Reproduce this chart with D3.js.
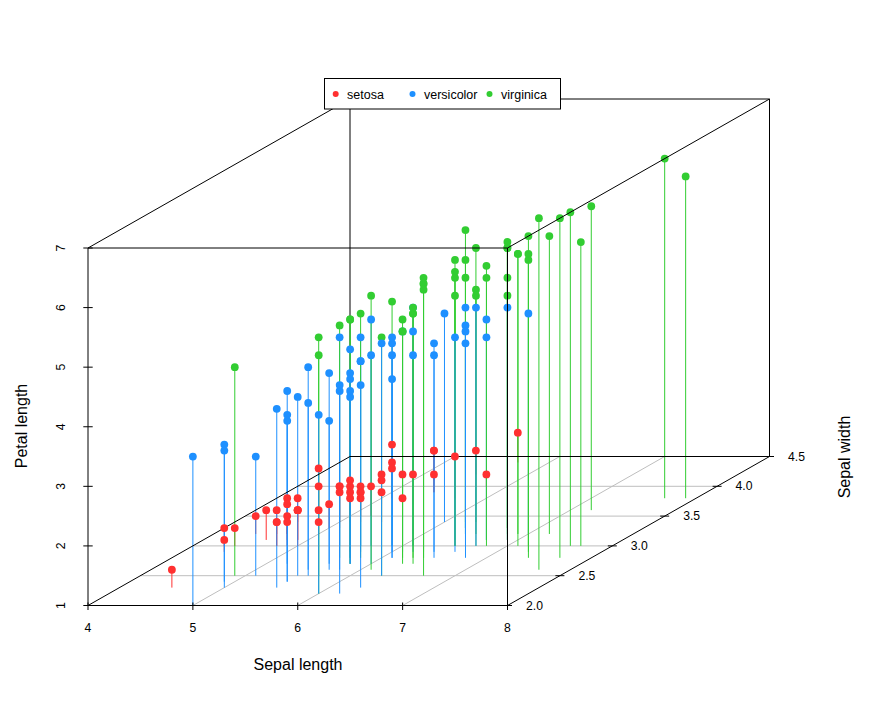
<!DOCTYPE html>
<html><head><meta charset="utf-8">
<script src="https://cdn.jsdelivr.net/npm/d3@7"></script>
<style>html,body{margin:0;padding:0;background:#fff}svg{display:block}text{font-family:"Liberation Sans",Arial,sans-serif;fill:#000}</style>
</head><body><svg id="c" width="885" height="724"></svg>
<script>
const species = ["setosa","versicolor","virginica"];
const speciesColors = ["#FF3030","#1E90FF","#32CD32"];
const xTicks = [4,5,6,7,8];
const yTicks = [2,2.5,3,3.5,4,4.5];
const zTicks = [1,2,3,4,5,6,7];
const sepalLength = [5.1,4.9,4.7,4.6,5,5.4,4.6,5,4.4,4.9,5.4,4.8,4.8,4.3,5.8,5.7,5.4,5.1,5.7,5.1,5.4,5.1,4.6,5.1,4.8,5,5,5.2,5.2,4.7,4.8,5.4,5.2,5.5,4.9,5,5.5,4.9,4.4,5.1,5,4.5,4.4,5,5.1,4.8,5.1,4.6,5.3,5,
7,6.4,6.9,5.5,6.5,5.7,6.3,4.9,6.6,5.2,5,5.9,6,6.1,5.6,6.7,5.6,5.8,6.2,5.6,5.9,6.1,6.3,6.1,6.4,6.6,6.8,6.7,6,5.7,5.5,5.5,5.8,6,5.4,6,6.7,6.3,5.6,5.5,5.5,6.1,5.8,5,5.6,5.7,5.7,6.2,5.1,5.7,
6.3,5.8,7.1,6.3,6.5,7.6,4.9,7.3,6.7,7.2,6.5,6.4,6.8,5.7,5.8,6.4,6.5,7.7,7.7,6,6.9,5.6,7.7,6.3,6.7,7.2,6.2,6.1,6.4,7.2,7.4,7.9,6.4,6.3,6.1,7.7,6.3,6.4,6,6.9,6.7,6.9,5.8,6.8,6.7,6.7,6.3,6.5,6.2,5.9];
const sepalWidth = [3.5,3,3.2,3.1,3.6,3.9,3.4,3.4,2.9,3.1,3.7,3.4,3,3,4,4.4,3.9,3.5,3.8,3.8,3.4,3.7,3.6,3.3,3.4,3,3.4,3.5,3.4,3.2,3.1,3.4,4.1,4.2,3.1,3.2,3.5,3.6,3,3.4,3.5,2.3,3.2,3.5,3.8,3,3.8,3.2,3.7,3.3,
3.2,3.2,3.1,2.3,2.8,2.8,3.3,2.4,2.9,2.7,2,3,2.2,2.9,2.9,3.1,3,2.7,2.2,2.5,3.2,2.8,2.5,2.8,2.9,3,2.8,3,2.9,2.6,2.4,2.4,2.7,2.7,3,3.4,3.1,2.3,3,2.5,2.6,3,2.6,2.3,2.7,3,2.9,2.9,2.5,2.8,
3.3,2.7,3,2.9,3,3,2.5,2.9,2.5,3.6,3.2,2.7,3,2.5,2.8,3.2,3,3.8,2.6,2.2,3.2,2.8,2.8,2.7,3.3,3.2,2.8,3,2.8,3,2.8,3.8,2.8,2.8,2.6,3,3.4,3.1,3,3.1,3.1,3.1,2.7,3.2,3.3,3,2.5,3,3.4,3];
const petalLength = [1.4,1.4,1.3,1.5,1.4,1.7,1.4,1.5,1.4,1.5,1.5,1.6,1.4,1.1,1.2,1.5,1.3,1.4,1.7,1.5,1.7,1.5,1,1.7,1.9,1.6,1.6,1.5,1.4,1.6,1.6,1.5,1.5,1.4,1.5,1.2,1.3,1.4,1.3,1.5,1.3,1.3,1.3,1.6,1.9,1.4,1.6,1.4,1.5,1.4,
4.7,4.5,4.9,4,4.6,4.5,4.7,3.3,4.6,3.9,3.5,4.2,4,4.7,3.6,4.4,4.5,4.1,4.5,3.9,4.8,4,4.9,4.7,4.3,4.4,4.8,5,4.5,3.5,3.8,3.7,3.9,5.1,4.5,4.5,4.7,4.4,4.1,4,4.4,4.6,4,3.3,4.2,4.2,4.2,4.3,3,4.1,
6,5.1,5.9,5.6,5.8,6.6,4.5,6.3,5.8,6.1,5.1,5.3,5.5,5,5.1,5.3,5.5,6.7,6.9,5,5.7,4.9,6.7,4.9,5.7,6,4.8,4.9,5.6,5.8,6.1,6.4,5.6,5.1,5.6,6.1,5.6,5.5,4.8,5.4,5.6,5.1,5.1,5.9,5.7,5.2,5,5.2,5.4,5.1];
const speciesIndex = sepalLength.map((_, i) => Math.floor(i / 50));

const svg = d3.select("#c");
const x = d3.scaleLinear().domain([4,8]).range([88,507.5]);
const depthX = d3.scaleLinear().domain([2,4.5]).range([0,262]);
const depthY = d3.scaleLinear().domain([2,4.5]).range([0,-149]);
const z = d3.scaleLinear().domain([1,7]).range([605.5,248]);
const px = (a,b) => x(a) + depthX(b);
const py = (b,c) => z(c) + depthY(b);
const color = d3.scaleOrdinal().domain(d3.range(3)).range(speciesColors);
const seg = (g,data,a,cls,stroke,w) => g.selectAll("line."+cls).data(data).join("line").attr("class",cls)
  .attr("x1",d=>a(d)[0]).attr("y1",d=>a(d)[1]).attr("x2",d=>a(d)[2]).attr("y2",d=>a(d)[3])
  .attr("stroke",stroke).attr("stroke-width",w||1);
const edge = e=>[px(e[0][0],e[0][1]),py(e[0][1],e[0][2]),px(e[1][0],e[1][1]),py(e[1][1],e[1][2])];

// floor grid
const grid = svg.append("g");
seg(grid,xTicks.slice(1,-1),v=>[px(v,2),py(2,1),px(v,4.5),py(4.5,1)],"gx","#BEBEBE");
seg(grid,yTicks.slice(1,-1),v=>[px(4,v),py(v,1),px(8,v),py(v,1)],"gy","#BEBEBE");

// back vertical edge lies behind everything
seg(svg.append("g"),[[[4,4.5,1],[4,4.5,7]]],edge,"backV","#000");

// drop lines, back to front
const order = d3.range(sepalLength.length).sort((i,j)=>sepalWidth[j]-sepalWidth[i] || j-i);
const drops = svg.append("g");
seg(drops,order,i=>[px(sepalLength[i],sepalWidth[i]),py(sepalWidth[i],1),px(sepalLength[i],sepalWidth[i]),py(sepalWidth[i],petalLength[i])],"drop",i=>color(speciesIndex[i]));

// floor edges run over the drop lines but under the points
const floorEdges = [[[4,2,1],[4,4.5,1]],[[4,4.5,1],[8,4.5,1]]];
seg(svg.append("g"),floorEdges,edge,"floorEdge","#000");

// points
svg.append("g").selectAll("circle").data(order).join("circle")
  .attr("cx",i=>px(sepalLength[i],sepalWidth[i]))
  .attr("cy",i=>py(sepalWidth[i],petalLength[i]))
  .attr("r",3.9).attr("fill",i=>color(speciesIndex[i]));

// box edges in front of the marks
const box = svg.append("g");
const frontEdges = [
 [[4,2,1],[8,2,1]],[[8,2,1],[8,4.5,1]],
 [[4,2,1],[4,2,7]],[[8,2,1],[8,2,7]],[[8,4.5,1],[8,4.5,7]],
 [[4,2,7],[8,2,7]],[[4,2,7],[4,4.5,7]],[[8,2,7],[8,4.5,7]],[[4,4.5,7],[8,4.5,7]]];
seg(box,frontEdges,edge,"edge","#000");

// ticks
seg(box,xTicks,v=>[px(v,2),py(2,1)-3,px(v,2),py(2,1)+4.5],"tx","#000");
seg(box,zTicks,v=>[px(4,2)-4.7,z(v),px(4,2)+4.7,z(v)],"tz","#000");
seg(box,yTicks,v=>[px(8,v)-4.5,py(v,1),px(8,v)+4.5,py(v,1)],"ty","#000");

// tick labels
const labels = svg.append("g").attr("font-size",12.2);
labels.selectAll("text.lx").data(xTicks).join("text").attr("class","lx")
  .attr("x",v=>px(v,2)).attr("y",632).attr("text-anchor","middle").text(v=>v);
labels.selectAll("text.lz").data(zTicks).join("text").attr("class","lz")
  .attr("transform",v=>`translate(65,${z(v)}) rotate(-90)`).attr("text-anchor","middle").text(v=>v);
labels.selectAll("text.ly").data(yTicks).join("text").attr("class","ly")
  .attr("x",v=>px(8,v)+18.5).attr("y",v=>py(v,1)+4).text(d3.format(".1f"));

// axis titles
const titles = svg.append("g").attr("font-size",16);
titles.append("text").attr("x",298).attr("y",670).attr("text-anchor","middle").text("Sepal length");
titles.append("text").attr("transform","translate(27,426) rotate(-90)").attr("text-anchor","middle").text("Petal length");
titles.append("text").attr("transform","translate(850,457) rotate(-90)").attr("text-anchor","middle").text("Sepal width");

// legend
const legend = svg.append("g");
legend.append("rect").attr("x",324.5).attr("y",78.5).attr("width",236).attr("height",30.5).attr("fill","#fff").attr("stroke","#000");
const legendDot = [335.7,412.5,489.5];
const legendText = [347,424,501];
legend.selectAll("circle").data(species).join("circle").attr("cx",(d,i)=>legendDot[i]).attr("cy",94).attr("r",3).attr("fill",(d,i)=>speciesColors[i]);
legend.selectAll("text").data(species).join("text").attr("x",(d,i)=>legendText[i]).attr("y",98.5).attr("font-size",12.5).text(d=>d);
</script></body></html>
